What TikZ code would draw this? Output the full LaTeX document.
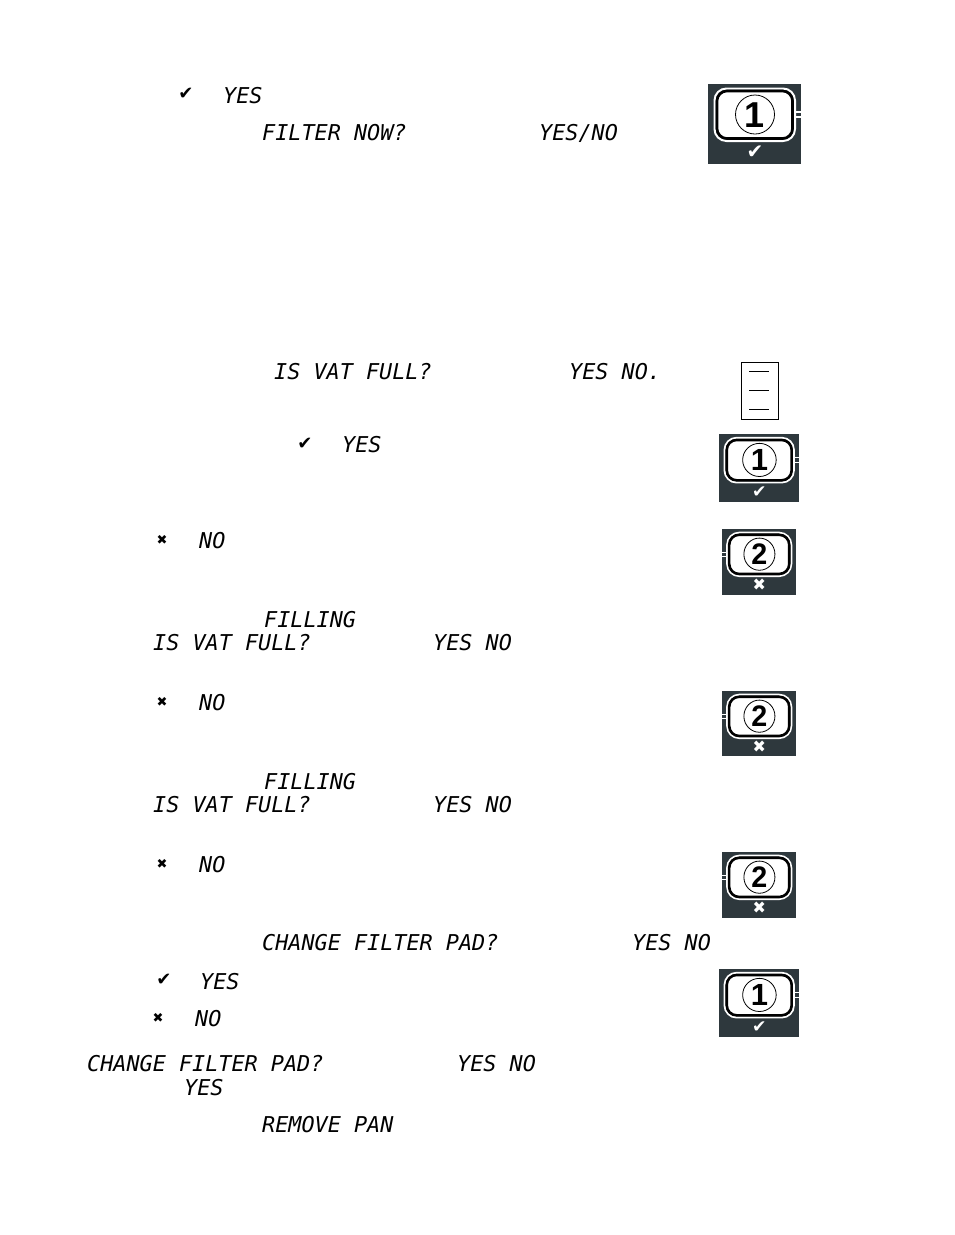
\documentclass[tikz,border=0pt]{standalone}
\usepackage{fontspec}
\setmainfont{Liberation Sans}
\newfontfamily\lcdfont{DejaVu Sans Mono}
\newfontfamily\symfont{DejaVu Sans}
\definecolor{keydark}{HTML}{2E383D}
\tikzset{
	lcd/.style={anchor=base west, inner sep=0pt, yshift=-1pt, font=\lcdfont\itshape\fontsize{21.8}{22}\selectfont},
	marksym/.style={anchor=center, inner sep=0pt, font=\symfont\fontsize{#1}{#1}\selectfont},
	keymark/.style={anchor=center, inner sep=0pt, text=white, transform shape, font=\symfont\fontsize{20}{20}\selectfont},
	keydigit/.style={anchor=center, inner sep=0pt, transform shape, font=\bfseries\fontsize{36}{36}\selectfont}
}
% name, left, top, xscale, yscale, digit, mark, stub start, plate height
\newcommand{\keypad}[9]{
	\begin{scope}[shift={(#2,#3)}, xscale=#4, yscale=#5]
	\fill[keydark] (0,0) rectangle (93,#9);%plate
	\draw[white, line width=1.1pt] (#8,28) -- ++(6,0) (#8,33) -- ++(6,0);%stub
	\draw[white, line width=2pt, rounded corners=12pt] (6.5,4.5) rectangle (87,57);
	\draw[fill=white, line width=2.6pt, rounded corners=10pt] (9,7) rectangle (84.5,54.5);
	\draw[line width=.8pt] (47,30.5) circle (19.5);
	\node[keydigit] (#1num) at (47,31) {#6};
	\node[keymark] (#1mark) at (47,#9-12) {#7};
	\end{scope}
}
\begin{document}
\begin{tikzpicture}[x=1pt, y=-1pt]
		\useasboundingbox (0,0) rectangle (954,1235);
		
		\node[marksym=18] (chk1) at (186,94) {✔};
		\node[lcd] (yes1) at (223,102) {YES};
		\node[lcd] (filternow) at (262,139) {FILTER NOW?};
		\node[lcd] (yesno1) at (539,139) {YES/NO};
		\keypad{keyA}{708}{84}{1}{1}{1}{✔}{87}{80}
		
		\node[lcd] (vatfull1) at (274,378) {IS VAT FULL?};
		\node[lcd] (yesno2) at (569,378) {YES NO.};
		
		\node[draw, line width=.8pt, minimum width=37pt, minimum height=57pt, inner sep=0pt] (panel) at (759.5,390.5) {};%little panel
		\coordinate (pa) at (749,371); \coordinate (pb) at (769,371);
		\coordinate (pc) at (749,390); \coordinate (pd) at (769,390);
		\coordinate (pe) at (749,409); \coordinate (pf) at (769,409);
		\draw[line width=.7pt] (pa) -- (pb) (pc) -- (pd) (pe) -- (pf);
		
		\node[marksym=18] (chk2) at (305,444) {✔};
		\node[lcd] (yes2) at (342,451) {YES};
		\keypad{keyB}{719}{434}{.86}{.85}{1}{✔}{87}{80}
		
		\node[marksym=13] (cross1) at (162,540) {✖};
		\node[lcd] (no1) at (199,547) {NO};
		\keypad{keyC}{722}{529}{.796}{.825}{2}{✖}{.5}{80}
		
		\node[lcd] (fill1) at (264,626) {FILLING};
		\node[lcd] (vatfull2) at (153,649) {IS VAT FULL?};
		\node[lcd] (yesno3) at (433,649) {YES NO};
		
		\node[marksym=13] (cross2) at (162,702) {✖};
		\node[lcd] (no2) at (199,709) {NO};
		\keypad{keyD}{722}{691}{.796}{.825}{2}{✖}{.5}{79}
		
		\node[lcd] (fill2) at (264,788) {FILLING};
		\node[lcd] (vatfull3) at (153,811) {IS VAT FULL?};
		\node[lcd] (yesno4) at (433,811) {YES NO};
		
		\node[marksym=13] (cross3) at (162,864) {✖};
		\node[lcd] (no3) at (199,871) {NO};
		\keypad{keyE}{722}{852}{.796}{.825}{2}{✖}{.5}{80}
		
		\node[lcd] (pad1) at (262,949) {CHANGE FILTER PAD?};
		\node[lcd] (yesno5) at (632,949) {YES NO};
		
		\node[marksym=18] (chk3) at (164,980) {✔};
		\node[lcd] (yes3) at (200,988) {YES};
		\keypad{keyF}{719}{969}{.86}{.85}{1}{✔}{87}{80}
		\node[marksym=13] (cross4) at (158,1018) {✖};
		\node[lcd] (no4) at (195,1025) {NO};
		
		\node[lcd] (pad2) at (87,1070) {CHANGE FILTER PAD?};
		\node[lcd] (yesno6) at (457,1070) {YES NO};
		\node[lcd] (yes4) at (184,1094) {YES};
		\node[lcd] (removepan) at (262,1131) {REMOVE PAN};
		\end{tikzpicture}
\end{document}
